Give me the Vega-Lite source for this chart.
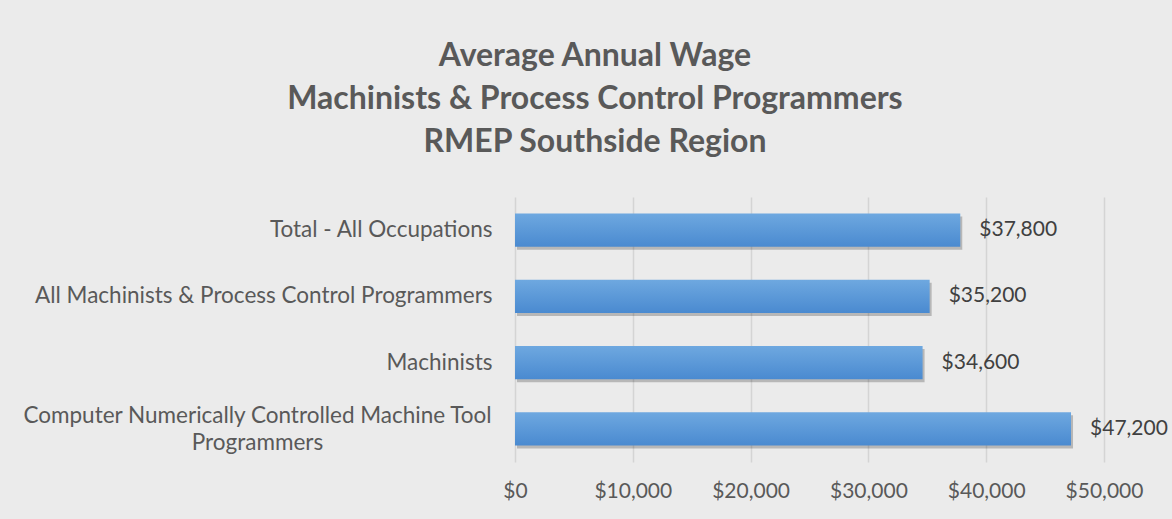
{
  "$schema": "https://vega.github.io/schema/vega-lite/v6.json",
  "autosize": {"type": "none"},
  "width": 589,
  "height": 265,
  "padding": {"left": 515, "top": 197, "right": 68, "bottom": 57},
  "background": "#ebebeb",
  "title": {
    "text": ["Average Annual Wage", "Machinists & Process Control Programmers", "RMEP Southside Region"],
    "anchor": "middle",
    "frame": "bounds",
    "font": "Lato",
    "fontSize": 32,
    "fontWeight": "bold",
    "color": "#595959",
    "lineHeight": 43,
    "offset": 38
  },
  "config": {
    "view": {"stroke": null},
    "font": "Lato"
  },
  "data": {
    "values": [
      {"occupation": "Total - All Occupations", "wage": 37800},
      {"occupation": "All Machinists & Process Control Programmers", "wage": 35200},
      {"occupation": "Machinists", "wage": 34600},
      {"occupation": "Computer Numerically Controlled Machine Tool Programmers", "wage": 47200}
    ]
  },
  "encoding": {
    "y": {
      "field": "occupation",
      "type": "nominal",
      "sort": null,
      "scale": {"paddingInner": 0.5, "paddingOuter": 0.25},
      "axis": {
        "title": null,
        "domain": false,
        "ticks": false,
        "grid": false,
        "labelFont": "Lato",
        "labelFontSize": 22.5,
        "labelColor": "#595959",
        "labelLimit": 0,
        "labelLineHeight": 27,
        "labelOffset": {"condition": {"test": "datum.value == 'Computer Numerically Controlled Machine Tool Programmers'", "value": -13}, "value": 0},
        "labelPadding": {"condition": {"test": "datum.value == 'Computer Numerically Controlled Machine Tool Programmers'", "value": 258}, "value": 23},
        "labelAlign": {"condition": {"test": "datum.value == 'Computer Numerically Controlled Machine Tool Programmers'", "value": "center"}, "value": "right"},
        "labelExpr": "datum.value == 'Computer Numerically Controlled Machine Tool Programmers' ? ['Computer Numerically Controlled Machine Tool', 'Programmers'] : datum.value"
      }
    },
    "x": {
      "field": "wage",
      "type": "quantitative",
      "scale": {"domain": [0, 50000], "nice": false},
      "axis": {
        "title": null,
        "domain": false,
        "ticks": false,
        "values": [0, 10000, 20000, 30000, 40000, 50000],
        "format": "$,.0f",
        "labelFont": "Lato",
        "labelFontSize": 21,
        "labelColor": "#595959",
        "labelPadding": 18,
        "labelFlush": false,
        "gridColor": "#d4d4d4",
        "gridWidth": 1.5
      }
    }
  },
  "layer": [
    {
      "mark": {"type": "bar", "color": "#000000", "opacity": 0.22, "yOffset": 3, "xOffset": 2},
      "encoding": {}
    },
    {
      "mark": {
        "type": "bar",
        "color": {
          "gradient": "linear",
          "x1": 0, "y1": 0, "x2": 0, "y2": 1,
          "stops": [
            {"offset": 0, "color": "#6ea8e0"},
            {"offset": 1, "color": "#4a8ad0"}
          ]
        }
      },
      "encoding": {}
    },
    {
      "mark": {"type": "text", "align": "left", "baseline": "middle", "dx": 19, "font": "Lato", "fontSize": 21, "color": "#404040"},
      "encoding": {
        "text": {"field": "wage", "type": "quantitative", "format": "$,.0f"}
      }
    }
  ]
}
